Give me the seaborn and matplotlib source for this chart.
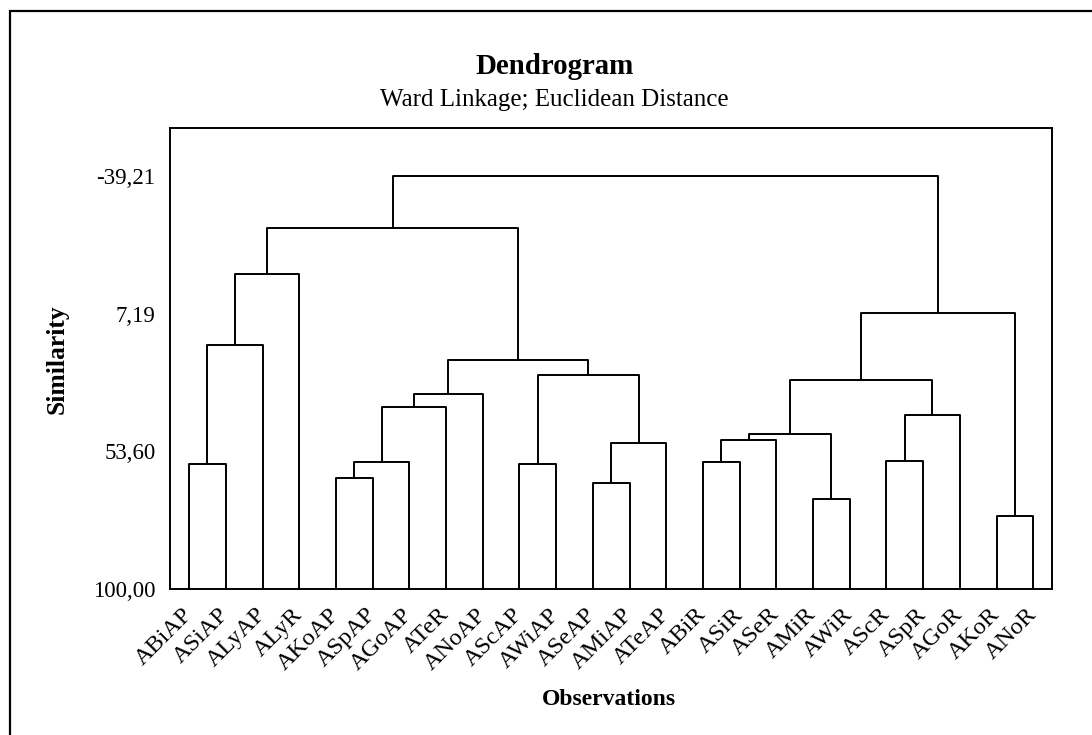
import numpy as np
import pandas as pd
import seaborn as sns
import matplotlib.pyplot as plt
from matplotlib.patches import Rectangle

# Observations in dendrogram order
leaves = ["ABiAP", "ASiAP", "ALyAP", "ALyR", "AKoAP", "ASpAP", "AGoAP", "ATeR",
          "ANoAP", "AScAP", "AWiAP", "ASeAP", "AMiAP", "ATeAP", "ABiR", "ASiR",
          "ASeR", "AMiR", "AWiR", "AScR", "ASpR", "AGoR", "AKoR", "ANoR"]

# Merge steps: ids 0-23 are leaves, merge i gets id 24 + i
merge_left = [0, 24, 25, 4, 27, 28, 29, 9, 11, 32, 31, 30, 26,
              14, 37, 17, 38, 19, 41, 40, 22, 43, 36]
merge_right = [1, 2, 3, 5, 6, 7, 8, 10, 12, 13, 33, 34, 35,
               15, 16, 18, 39, 20, 21, 42, 23, 44, 45]
merge_sim = [57.97, 17.62, -6.12, 62.48, 57.20, 38.80, 34.23, 57.97, 64.36,
             50.91, 27.71, 22.66, -21.49, 57.30, 49.70, 69.54, 47.78, 56.76,
             41.39, 29.62, 75.25, 6.86, -39.21]

ytick_vals = [-39.21, 7.19, 53.60, 100.00]
ytick_labels = ["-39,21", "7,19", "53,60", "100,00"]

sns.set_style("white")
plt.rcParams['font.family'] = ['Liberation Serif', 'DejaVu Serif']
plt.rcParams['text.color'] = 'black'
plt.rcParams['axes.labelcolor'] = 'black'
plt.rcParams['xtick.color'] = 'black'
plt.rcParams['ytick.color'] = 'black'

# Build the link polylines
node_x = list(range(len(leaves)))
node_y = [100.0] * len(leaves)
rows = []
for i, (a, b, s) in enumerate(zip(merge_left, merge_right, merge_sim)):
    pts = [(node_x[a], node_y[a]), (node_x[a], s), (node_x[b], s), (node_x[b], node_y[b])]
    for order, (px, py) in enumerate(pts):
        rows.append({'link': i, 'order': order, 'x': px, 'y': py})
    node_x.append((node_x[a] + node_x[b]) / 2)
    node_y.append(s)
links = pd.DataFrame(rows)

fig = plt.figure(figsize=(10.92, 7.35), dpi=100)
ax = fig.add_axes([0.1557, 0.1982, 0.8080, 0.6270])

sns.lineplot(data=links, x='x', y='y', units='link', estimator=None,
             sort=False, color='black', linewidth=1.4, ax=ax, legend=False)

ax.set_xlim(-0.52, 23.52)
ax.set_ylim(100, -55.1)
ax.set_xticks(range(len(leaves)))
ax.set_xticklabels(leaves, rotation=45, ha='right', va='center',
                   rotation_mode='anchor', fontsize=17.5)
ax.set_yticks(ytick_vals)
ax.set_yticklabels(ytick_labels, fontsize=16.5)
ax.tick_params(axis='both', direction='out', length=5, width=1.4, color='black')
ax.tick_params(axis='x', pad=11)
ax.tick_params(axis='y', pad=5.5)
for sp in ax.spines.values():
    sp.set_visible(True)
    sp.set_color('black')
    sp.set_linewidth(1.4)

ax.set_xlabel('Observations', fontsize=17, fontweight='bold', va='center')
ax.xaxis.set_label_coords(0.498, -0.238)
ax.set_ylabel('Similarity', fontsize=18.4, fontweight='bold', va='center')
ax.yaxis.set_label_coords(-0.1284, 0.5)

fig.text(0.508, 1 - 74 / 735, 'Dendrogram', ha='center', va='baseline',
         fontsize=20.8, fontweight='bold')
fig.text(0.508, 1 - 106 / 735, 'Ward Linkage; Euclidean Distance',
         ha='center', va='baseline', fontsize=18)

# outer frame of the graph window
fig.patches.append(Rectangle((10 / 1092, -0.1), 1.2, 0.985 + 0.1,
                             transform=fig.transFigure, fill=False,
                             edgecolor='black', linewidth=1.6))

fig.savefig('out.png', dpi=100)
